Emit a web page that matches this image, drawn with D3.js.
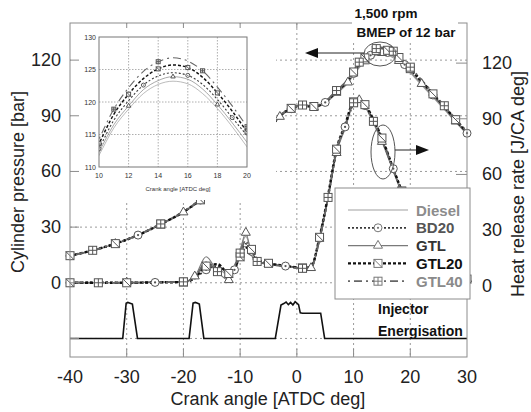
<!DOCTYPE html>
<html>
<head>
<meta charset="utf-8">
<script src="https://cdn.jsdelivr.net/npm/d3@7"></script>
<style>
	body { margin: 0; background: #fff; }
	svg { display: block; font-family: 'Liberation Sans', Arial, sans-serif; }
</style>
</head>
<body>
<div id="chart"></div>
<script>
'use strict';

// series names, same order everywhere
var seriesNames = ['Diesel', 'BD20', 'GTL', 'GTL20', 'GTL40'];

// cylinder pressure [bar] vs crank angle
var pAngle   = [-40, -36, -32, -28, -24, -20, -17, -14, -11, -8, -5, -3, -1, 1, 3, 5, 7, 9, 10, 11, 12, 13, 14, 15, 16, 17, 18, 19, 20, 22, 24, 26, 28, 30];
var pDiesel  = [14.5, 17.4, 21.0, 25.6, 31.5, 38.0, 44.5, 52.0, 61.0, 71.0, 82.0, 89.5, 93.6, 95.2, 94.4, 96.8, 102.0, 107.6, 111.8, 116.0, 118.9, 121.3, 122.7, 123.2, 122.8, 121.3, 119.0, 116.2, 113.1, 106.5, 100.0, 93.4, 86.6, 80.0];
var pBD20    = [14.5, 17.4, 21.0, 25.7, 31.6, 38.1, 44.6, 52.2, 61.2, 71.2, 82.2, 89.7, 93.8, 95.4, 94.7, 97.2, 102.8, 108.4, 112.8, 117.2, 120.2, 122.6, 124.0, 124.5, 124.1, 122.7, 120.4, 117.6, 114.8, 108.0, 101.2, 94.4, 87.4, 80.6];
var pGTL     = [14.4, 17.3, 21.0, 25.6, 31.5, 38.0, 44.5, 52.0, 61.0, 71.0, 82.0, 89.5, 93.7, 95.3, 94.6, 97.0, 102.4, 108.0, 112.3, 116.5, 119.4, 121.9, 123.3, 123.9, 123.5, 122.0, 119.6, 116.8, 113.8, 107.2, 100.6, 93.9, 87.0, 80.3];
var pGTL20   = [14.6, 17.5, 21.1, 25.7, 31.6, 38.2, 44.7, 52.3, 61.3, 71.4, 82.4, 89.9, 94.0, 95.6, 95.0, 97.5, 103.2, 109.0, 113.6, 118.1, 121.2, 123.6, 125.1, 125.7, 125.3, 123.8, 121.4, 118.6, 115.4, 108.6, 101.8, 95.0, 87.9, 81.0];
var pGTL40   = [14.6, 17.5, 21.1, 25.8, 31.7, 38.3, 44.8, 52.4, 61.4, 71.5, 82.6, 90.1, 94.2, 95.8, 95.3, 97.8, 103.6, 109.6, 114.3, 118.9, 122.2, 124.7, 126.2, 126.8, 126.3, 124.8, 122.3, 119.4, 116.2, 109.2, 102.3, 95.4, 88.3, 81.4];

// heat release rate [J/CA deg] vs crank angle
var hAngle   = [-40, -35, -30, -25, -20, -18, -16, -14, -12, -11, -10, -9, -8, -7, -5, -2, 1, 2.5, 4, 5.5, 7, 8.5, 10, 11, 12, 13.5, 15, 17, 18.5, 20, 23, 26, 30];
var hDiesel  = [0, 0, 0, 0.3, 0.5, 3, 9, 8, 4, 8, 18, 25, 17, 12, 10, 9, 8, 8.5, 25, 47, 72, 84, 97, 98, 95, 87, 77, 61, 49, 38, 21, 9, 2];
var hBD20    = [0, 0.2, 0, 0.2, 0.6, 2.5, 7, 9, 5, 7, 15, 21, 17, 12, 10.5, 9, 8.2, 8.8, 24, 46, 71, 84, 96, 98, 95.5, 87.5, 77.5, 61.5, 49.5, 38.5, 21, 9, 2];
var hGTL     = [0, 0, 0.2, 0.3, 0.5, 3.5, 14, 6, 1.5, 7, 17, 27, 15, 11, 10, 9, 7.8, 8, 23, 45, 70, 83, 96.5, 98.5, 95, 86, 76, 60, 48, 37, 20, 8.5, 2];
var hGTL20   = [0, 0, 0, 0.2, 0.4, 2.5, 9, 10, 5, 8, 14, 19, 18, 12.5, 10.5, 9.2, 8, 8.6, 24.5, 47, 72, 85, 97.5, 98.5, 96, 88, 78, 61.5, 49.5, 38.5, 21.5, 9, 2];
var hGTL40   = [0.2, 0, 0, 0.3, 0.5, 3, 11, 6, 3, 9, 16, 23, 14, 11.5, 10, 8.8, 7.8, 8.2, 23.5, 46, 71.5, 84.5, 97, 98, 95, 87, 77, 61, 49, 38, 21, 9, 2];

// injector energisation trace (drawn on the pressure axis)
var injAngle = [-40, -30.7, -30.1, -29.8, -29.4, -29.0, -28.1, -19.0, -18.3, -17.9, -17.5, -17.2, -16.4, -3.8, -2.8, -2.3, -1.9, -1.5, -1.1, -0.7, -0.3, 0.3, 0.6, 1.0, 4.2, 4.9, 30];
var injValue = [-30, -30, -11, -10.6, -11, -11.5, -30, -30, -11, -10.6, -11, -11.5, -30, -30, -12, -11.2, -10.4, -11.8, -10.6, -12, -10.2, -11.8, -16.2, -16.4, -16.4, -30, -30];

// axes
var xTicks = [-40, -30, -20, -10, 0, 10, 20, 30];
var yTicks = [0, 30, 60, 90, 120];
var yGrid = [-30, 0, 30, 60, 90, 120];
var insetXTicks = [10, 12, 14, 16, 18, 20];
var insetYTicks = [110, 115, 120, 125, 130];

var pressure = [pDiesel, pBD20, pGTL, pGTL20, pGTL40];
var heat = [hDiesel, hBD20, hGTL, hGTL20, hGTL40];

var styles = {
	Diesel: {stroke: '#a0a0a0', width: 1.2, dash: null, marker: null, text: '#8c8c8c', every: 0, offset: 0},
	BD20:   {stroke: '#3a3a3a', width: 1.8, dash: '2,2', marker: 'circle', text: '#555', every: 3, offset: 0},
	GTL:    {stroke: '#7a7a7a', width: 1.1, dash: null, marker: 'triangle', text: '#333', every: 3, offset: 1},
	GTL20:  {stroke: '#111', width: 2.4, dash: '3,2', marker: 'sqslash', text: '#111', every: 2, offset: 0},
	GTL40:  {stroke: '#666', width: 1.8, dash: '2,4,8,4', marker: 'sqcross', text: '#8a8a8a', every: 3, offset: 2}
};

var width = 531;
var height = 412;

var svg = d3.select('#chart').append('svg')
	.attr('width', width)
	.attr('height', height);

var x = d3.scaleLinear().domain([-40, 30]).range([70, 467]);
var y = d3.scaleLinear().domain([-40, 140]).range([357, 23]);
var yR = d3.scaleLinear().domain([-40, 140]).range([360, 26]);

function drawMarker(g, type, s, color){
	var h = s / 2;
	if (type === 'circle'){
		g.append('circle').attr('r', h).attr('fill', '#fff').attr('stroke', color);
		g.append('circle').attr('r', s / 7).attr('fill', color);
	} else if (type === 'triangle'){
		g.append('path')
			.attr('d', d3.symbol(d3.symbolTriangle, s * s * 0.55)())
			.attr('fill', '#fff').attr('stroke', color);
	} else if (type === 'sqslash'){
		g.append('rect').attr('x', -h).attr('y', -h).attr('width', s).attr('height', s)
			.attr('fill', '#fff').attr('stroke', color);
		g.append('line').attr('x1', -h).attr('y1', -h).attr('x2', h).attr('y2', h).attr('stroke', color);
	} else if (type === 'sqcross'){
		g.append('rect').attr('x', -h).attr('y', -h).attr('width', s).attr('height', s)
			.attr('fill', '#fff').attr('stroke', color);
		g.append('line').attr('x1', -h).attr('y1', 0).attr('x2', h).attr('y2', 0).attr('stroke', color);
		g.append('line').attr('x1', 0).attr('y1', -h).attr('x2', 0).attr('y2', h).attr('stroke', color);
	}
}

function drawSeries(layer, angles, valuesList, xs, ys, markerSize, lineScale){
	var line = d3.line()
		.x(function(d) { return xs(d[0]); })
		.y(function(d) { return ys(d[1]); })
		.curve(d3.curveMonotoneX);

	seriesNames.forEach(function(name, i){
		var st = styles[name];
		var pts = d3.zip(angles, valuesList[i]);
		layer.append('path')
			.datum(pts)
			.attr('fill', 'none')
			.attr('stroke', st.stroke)
			.attr('stroke-width', st.width * lineScale)
			.attr('stroke-dasharray', st.dash)
			.attr('d', line);
	});

	seriesNames.forEach(function(name, i){
		var st = styles[name];
		if (!st.marker) return;
		var pts = d3.zip(angles, valuesList[i]).filter(function(d, j){
			return (j + st.offset) % st.every === 0 && d[0] >= xs.domain()[0] && d[0] <= xs.domain()[1];
		});
		layer.selectAll(null)
			.data(pts)
			.enter()
			.append('g')
				.attr('transform', function(d) { return 'translate(' + xs(d[0]) + ',' + ys(d[1]) + ')'; })
				.each(function(){ drawMarker(d3.select(this), st.marker, markerSize, '#555'); });
	});
}

// dotted grid
var grid = svg.append('g')
	.attr('stroke', '#9a9a9a')
	.attr('stroke-dasharray', '2,3');

grid.selectAll('line.gx')
	.data(xTicks.slice(1, -1))
	.enter()
	.append('line')
		.attr('class', 'gx')
		.attr('x1', function(d) { return x(d); })
		.attr('x2', function(d) { return x(d); })
		.attr('y1', y.range()[1])
		.attr('y2', y.range()[0]);

grid.selectAll('line.gy')
	.data(yGrid)
	.enter()
	.append('line')
		.attr('class', 'gy')
		.attr('x1', x.range()[0])
		.attr('x2', x.range()[1])
		.attr('y1', function(d) { return y(d); })
		.attr('y2', function(d) { return y(d); });

// injector trace
svg.append('path')
	.datum(d3.zip(injAngle, injValue))
	.attr('fill', 'none')
	.attr('stroke', '#111')
	.attr('stroke-width', 1.6)
	.attr('d', d3.line()
		.x(function(d) { return x(d[0]); })
		.y(function(d) { return y(d[1]); }));

// heat release rate and pressure
drawSeries(svg.append('g'), hAngle, heat, x, y, 8, 1);
drawSeries(svg.append('g'), pAngle, pressure, x, y, 8, 1);

// inset panel
svg.append('rect')
	.attr('x', 71).attr('y', 24)
	.attr('width', 205).attr('height', 176)
	.attr('fill', '#fff');

var xi = d3.scaleLinear().domain([10, 20]).range([99, 247]);
var yi = d3.scaleLinear().domain([110, 130]).range([167, 37]);

var inset = svg.append('g').attr('class', 'inset');

svg.append('clipPath').attr('id', 'insetClip')
	.append('rect')
		.attr('x', 99).attr('y', 37)
		.attr('width', 148).attr('height', 130);

var igrid = inset.append('g')
	.attr('stroke', '#999')
	.attr('stroke-width', 0.8)
	.attr('stroke-dasharray', '1.5,1.5');

igrid.selectAll('line.ix')
	.data(insetXTicks.slice(1, -1))
	.enter()
	.append('line')
		.attr('x1', function(d) { return xi(d); })
		.attr('x2', function(d) { return xi(d); })
		.attr('y1', 37)
		.attr('y2', 167);

igrid.selectAll('line.iy')
	.data(insetYTicks.slice(1, -1))
	.enter()
	.append('line')
		.attr('x1', 99)
		.attr('x2', 247)
		.attr('y1', function(d) { return yi(d); })
		.attr('y2', function(d) { return yi(d); });

drawSeries(inset.append('g').attr('clip-path', 'url(#insetClip)'), pAngle, pressure, xi, yi, 4, 0.6);

inset.append('rect')
	.attr('x', 99).attr('y', 37)
	.attr('width', 148).attr('height', 130)
	.attr('fill', 'none')
	.attr('stroke', '#777');

inset.selectAll('text.ixl')
	.data(insetXTicks)
	.enter()
	.append('text')
		.attr('x', function(d) { return xi(d); })
		.attr('y', 178)
		.attr('text-anchor', 'middle')
		.attr('font-size', 7)
		.attr('fill', '#333')
		.text(function(d) { return d; });

inset.selectAll('text.iyl')
	.data(insetYTicks)
	.enter()
	.append('text')
		.attr('x', 96)
		.attr('y', function(d) { return yi(d) + 2.5; })
		.attr('text-anchor', 'end')
		.attr('font-size', 7)
		.attr('fill', '#333')
		.text(function(d) { return d; });

inset.append('text')
	.attr('x', 178)
	.attr('y', 191)
	.attr('text-anchor', 'middle')
	.attr('font-size', 6)
	.attr('fill', '#333')
	.text('Crank angle [ATDC deg]');

// frame and inward ticks
svg.append('rect')
	.attr('x', 70).attr('y', 23)
	.attr('width', 397).attr('height', 334)
	.attr('fill', 'none')
	.attr('stroke', '#8c8c8c');

var ticks = svg.append('g').attr('stroke', '#8c8c8c');

xTicks.slice(1, -1).forEach(function(d){
	ticks.append('line').attr('x1', x(d)).attr('x2', x(d)).attr('y1', 357).attr('y2', 349);
	ticks.append('line').attr('x1', x(d)).attr('x2', x(d)).attr('y1', 23).attr('y2', 28);
});
yGrid.forEach(function(d){
	ticks.append('line').attr('x1', 70).attr('x2', 79).attr('y1', y(d)).attr('y2', y(d));
});
yTicks.forEach(function(d){
	ticks.append('line').attr('x1', 456).attr('x2', 467).attr('y1', yR(d)).attr('y2', yR(d));
});

// tick labels
svg.selectAll('text.xl')
	.data(xTicks)
	.enter()
	.append('text')
		.attr('x', function(d) { return x(d); })
		.attr('y', 383)
		.attr('text-anchor', 'middle')
		.attr('font-size', 18)
		.attr('fill', '#222')
		.text(function(d) { return d; });

svg.selectAll('text.yl')
	.data(yTicks)
	.enter()
	.append('text')
		.attr('x', 61)
		.attr('y', function(d) { return y(d) + 6; })
		.attr('text-anchor', 'end')
		.attr('font-size', 18)
		.attr('fill', '#222')
		.text(function(d) { return d; });

svg.selectAll('text.yr')
	.data(yTicks)
	.enter()
	.append('text')
		.attr('x', 482)
		.attr('y', function(d) { return yR(d) + 6; })
		.attr('text-anchor', 'start')
		.attr('font-size', 18)
		.attr('fill', '#222')
		.text(function(d) { return d; });

// axis titles
svg.append('text')
	.attr('x', 268)
	.attr('y', 405)
	.attr('text-anchor', 'middle')
	.attr('font-size', 18)
	.attr('fill', '#222')
	.text('Crank angle [ATDC deg]');

svg.append('text')
	.attr('transform', 'translate(24,182) rotate(-90)')
	.attr('text-anchor', 'middle')
	.attr('font-size', 18)
	.attr('fill', '#222')
	.text('Cylinder pressure [bar]');

svg.append('text')
	.attr('transform', 'translate(524,184) rotate(-90)')
	.attr('text-anchor', 'middle')
	.attr('font-size', 18)
	.attr('fill', '#222')
	.text('Heat release rate [J/CA deg]');

// legend
var legend = svg.append('g');

legend.append('rect')
	.attr('x', 335).attr('y', 188)
	.attr('width', 135).attr('height', 111)
	.attr('fill', '#fff')
	.attr('stroke', '#8c8c8c');

seriesNames.forEach(function(name, i){
	var st = styles[name];
	var ly = 210 + i * 17.8;
	legend.append('line')
		.attr('x1', 348).attr('x2', 408)
		.attr('y1', ly).attr('y2', ly)
		.attr('stroke', st.stroke)
		.attr('stroke-width', st.width)
		.attr('stroke-dasharray', st.dash);
	if (st.marker){
		drawMarker(legend.append('g').attr('transform', 'translate(378,' + ly + ')'), st.marker, 8, '#777');
	}
	legend.append('text')
		.attr('x', 416)
		.attr('y', ly + 5.5)
		.attr('font-size', 15)
		.attr('font-weight', 'bold')
		.attr('fill', st.text)
		.text(name);
});

// annotations
var ann = svg.append('g');

ann.append('rect')
	.attr('x', 352).attr('y', 20)
	.attr('width', 106).attr('height', 20)
	.attr('fill', '#fff');

ann.append('text')
	.attr('x', 386).attr('y', 18)
	.attr('text-anchor', 'middle')
	.attr('font-size', 13.5)
	.attr('font-weight', 'bold')
	.attr('fill', '#111')
	.text('1,500 rpm');

ann.append('text')
	.attr('x', 406).attr('y', 37)
	.attr('text-anchor', 'middle')
	.attr('font-size', 13.5)
	.attr('font-weight', 'bold')
	.attr('fill', '#111')
	.text('BMEP of 12 bar');

ann.append('ellipse')
	.attr('cx', 380).attr('cy', 54)
	.attr('rx', 16).attr('ry', 12)
	.attr('fill', 'none')
	.attr('stroke', '#555');

ann.append('line')
	.attr('x1', 364).attr('x2', 316)
	.attr('y1', 53).attr('y2', 53)
	.attr('stroke', '#222');

ann.append('path')
	.attr('d', 'M305,53L318,48L318,58Z')
	.attr('fill', '#111');

ann.append('ellipse')
	.attr('cx', 383).attr('cy', 152)
	.attr('rx', 12).attr('ry', 27)
	.attr('fill', 'none')
	.attr('stroke', '#555');

ann.append('line')
	.attr('x1', 395).attr('x2', 417)
	.attr('y1', 150).attr('y2', 150)
	.attr('stroke', '#222');

ann.append('path')
	.attr('d', 'M429,150L416,145L416,155Z')
	.attr('fill', '#111');

ann.append('text')
	.attr('x', 378).attr('y', 314)
	.attr('font-size', 14)
	.attr('font-weight', 'bold')
	.attr('fill', '#111')
	.text('Injector');

ann.append('text')
	.attr('x', 378).attr('y', 336)
	.attr('font-size', 14)
	.attr('font-weight', 'bold')
	.attr('fill', '#111')
	.text('Energisation');
</script>
</body>
</html>
